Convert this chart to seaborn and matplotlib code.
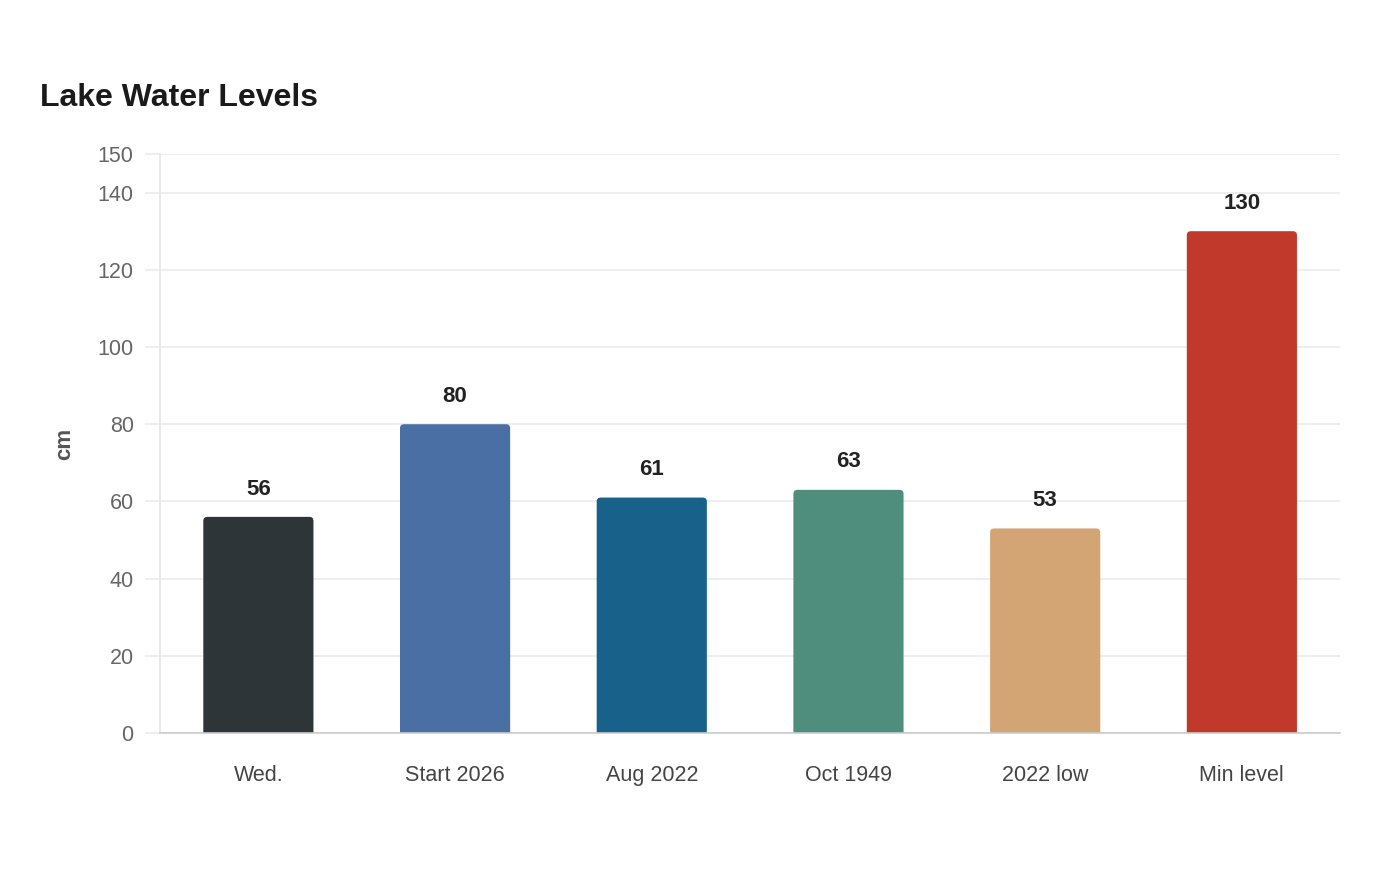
import pandas as pd
import matplotlib.pyplot as plt
import seaborn as sns
from matplotlib.patches import FancyBboxPatch

labels = ['Wed.', 'Start 2026', 'Aug 2022', 'Oct 1949', '2022 low', 'Min level']
levels = [56, 80, 61, 63, 53, 130]
colors = ['#2e3538', '#4a6fa5', '#17618a', '#4f8e7c', '#d4a574', '#c0392b']
yticks = [0, 20, 40, 60, 80, 100, 120, 140, 150]

df = pd.DataFrame({'label': labels, 'cm': levels})

sns.set_theme(style='white')
plt.rcParams['font.family'] = ['Liberation Sans', 'DejaVu Sans']

fig = plt.figure(figsize=(14, 8.8), dpi=100)
ax = fig.add_axes([0.1143, 0.167, 0.843, 0.658])

sns.barplot(data=df, x='label', y='cm', hue='label', palette=colors,
            width=0.56, legend=False, ax=ax, saturation=1)

ax.set_xlim(-0.5, 5.5)
ax.set_ylim(0, 150)

# rounded tops: swap each bar rectangle for a rounded box
fig.canvas.draw()
bbox = ax.get_window_extent()
px_x = bbox.width / 6.0
px_y = bbox.height / 150.0
r_px = 4
for p in list(ax.patches):
    x, w, h = p.get_x(), p.get_width(), p.get_height()
    fc = p.get_facecolor()
    p.remove()
    rb = FancyBboxPatch((x, -3), w, h + 3,
                        boxstyle=f'round,pad=0,rounding_size={r_px / px_x}',
                        mutation_aspect=(r_px / px_y) / (r_px / px_x),
                        facecolor=fc, edgecolor='none', zorder=2)
    ax.add_patch(rb)

for i, v in enumerate(levels):
    ax.annotate(str(v), (i, v), xytext=(0, 12.5), textcoords='offset points',
                ha='center', va='bottom', fontsize=16, fontweight='bold',
                color='#222222')

ax.set_yticks(yticks)
ax.yaxis.grid(True, color='#ebebeb', linewidth=1.2)
ax.set_axisbelow(True)
ax.tick_params(axis='y', length=11, width=1.2, color='#ebebeb', pad=8,
               labelsize=15.5, labelcolor='#666666', left=True)
ax.tick_params(axis='x', length=0, pad=23, labelsize=15.5, labelcolor='#444444')

for s in ['top', 'right']:
    ax.spines[s].set_visible(False)
ax.spines['left'].set_color('#e6e6e6')
ax.spines['left'].set_linewidth(1.2)
ax.spines['bottom'].set_color('#cccccc')
ax.spines['bottom'].set_linewidth(1.2)

ax.set_xlabel('')
ax.set_ylabel('cm', fontsize=16, fontweight='bold', color='#555555', labelpad=16)

fig.text(0.0286, 0.879, 'Lake Water Levels', fontsize=23, fontweight='bold',
         color='#1a1a1a', ha='left', va='baseline')

fig.savefig('out.png', dpi=100)
